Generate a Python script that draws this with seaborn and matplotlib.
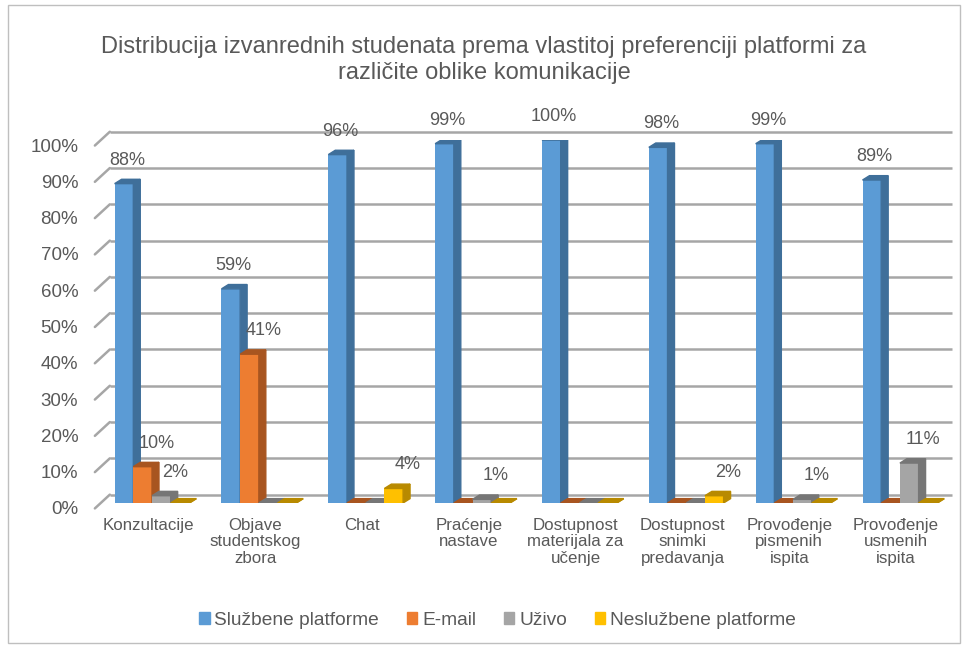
import pandas as pd
import matplotlib.pyplot as plt
import seaborn as sns
from matplotlib.patches import Polygon, Patch, Rectangle
from matplotlib.transforms import ScaledTranslation

# podaci
categories = ['Konzultacije', 'Objave\nstudentskog\nzbora', 'Chat', 'Praćenje\nnastave',
              'Dostupnost\nmaterijala za\nučenje', 'Dostupnost\nsnimki\npredavanja',
              'Provođenje\npismenih\nispita', 'Provođenje\nusmenih\nispita']
series = ['Službene platforme', 'E-mail', 'Uživo', 'Neslužbene platforme']
sluzbene = [88, 59, 96, 99, 100, 98, 99, 89]
email = [10, 41, 0, 0, 0, 0, 0, 0]
uzivo = [2, 0, 0, 1, 0, 0, 1, 11]
nesluzbene = [0, 0, 4, 0, 0, 2, 0, 0]
yticks = list(range(0, 101, 10))

colors = ['#5B9BD5', '#ED7D31', '#A5A5A5', '#FFC000']
dark = ['#3F6F9A', '#A85520', '#767676', '#B88A00']

rows = []
for s, vals in zip(series, [sluzbene, email, uzivo, nesluzbene]):
    for c, v in zip(categories, vals):
        rows.append({'kategorija': c, 'platforma': s, 'vrijednost': v})
df = pd.DataFrame(rows)

sns.set_style('white')
plt.rcParams['font.family'] = ['Liberation Sans', 'DejaVu Sans']
txt = '#595959'
gridc = '#A6A6A6'

fig = plt.figure(figsize=(9.68, 6.48), dpi=100)
ax = fig.add_axes([0.098, 0.2238, 0.883, 0.560])

sns.barplot(data=df, x='kategorija', y='vrijednost', hue='platforma', palette=colors,
            width=0.7, ax=ax, legend=False, saturation=1)

# 3D efekt: bocna i gornja strana stupaca
dx, dy = 0.065, 1.2
for i, (cont, dc) in enumerate(zip(ax.containers, dark)):
    z = 3 + i * 0.1
    for p in cont.patches:
        x0, w, h = p.get_x(), p.get_width(), p.get_height()
        x0 += 0.035
        p.set_x(x0)
        x1 = x0 + w
        p.set_linewidth(0)
        p.set_zorder(z)
        ax.add_patch(Polygon([(x1, 0), (x1 + dx, dy), (x1 + dx, h + dy), (x1, h)],
                             closed=True, color=dc, zorder=z))
        ax.add_patch(Polygon([(x0, h), (x1, h), (x1 + dx, h + dy), (x0 + dx, h + dy)],
                             closed=True, color=dc, zorder=z))
        if h > 0:
            xoff = 2 if i == 0 else 10
            ax.annotate(f'{h:.0f}%', (x0 + w / 2, h), xytext=(xoff, 17),
                        textcoords='offset points', ha='center', va='center',
                        fontsize=13, color=txt, zorder=6, annotation_clip=False)

ax.set_ylim(0, 100)
ax.set_xlim(-0.5, 7.5)
ax.set_yticks(yticks)
ax.set_yticklabels([f'{v}%' for v in yticks], fontsize=13.5, color=txt)
ax.tick_params(axis='x', labelsize=12.2, colors=txt, length=0, pad=11)
ax.tick_params(axis='y', length=0, pad=12)
for lab in ax.get_xticklabels():
    lab.set_linespacing(1.1)
shift = ScaledTranslation(0, -5 / 100, fig.dpi_scale_trans)
for lab in ax.get_yticklabels():
    lab.set_transform(lab.get_transform() + shift)
for sp in ax.spines.values():
    sp.set_visible(False)
ax.set_xlabel('')
ax.set_ylabel('')

# mreža na stražnjem zidu s kosim dijelom
gx0, gdy = -0.36, 2.3
for v in yticks:
    ax.plot([gx0, 7.52], [v + gdy, v + gdy], color=gridc, linewidth=1.8,
            clip_on=False, zorder=1, solid_capstyle='butt')
    ax.plot([-0.5, gx0], [v - 1.5, v + gdy], color=gridc, linewidth=1.8,
            clip_on=False, zorder=1)

fig.text(0.5, 0.907, 'Distribucija izvanrednih studenata prema vlastitoj preferenciji platformi za\n'
         'različite oblike komunikacije', ha='center', va='center', fontsize=17,
         color=txt, linespacing=1.25)

handles = [Patch(color=c, label=s) for c, s in zip(colors, series)]
fig.legend(handles=handles, loc='center', bbox_to_anchor=(0.514, 0.043), ncol=4,
           frameon=False, fontsize=13.75, handlelength=0.55, handleheight=0.55,
           handletextpad=0.25, columnspacing=1.45, labelcolor=txt)

fig.patches.append(Rectangle((0.008, 0.008), 0.984, 0.984, transform=fig.transFigure,
                             fill=False, edgecolor='#BFBFBF', linewidth=1))

plt.savefig('out.png', dpi=100)
